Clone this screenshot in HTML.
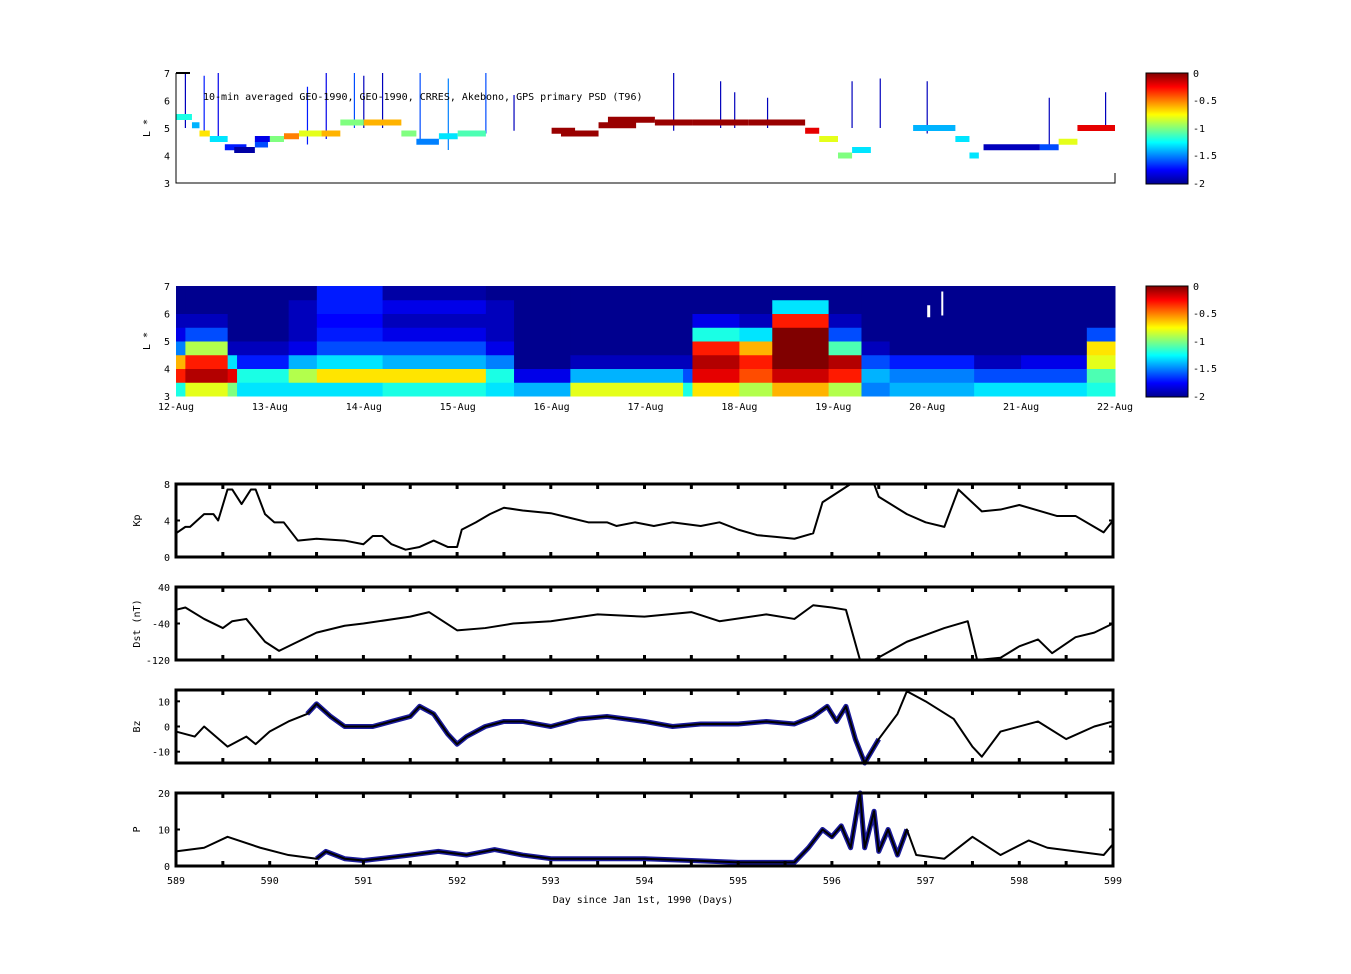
<!DOCTYPE html>
<html><head><meta charset="utf-8"><style>
html,body{margin:0;padding:0;background:#fff;}
svg{display:block;font-family:"DejaVu Sans Mono","Liberation Mono",monospace;}
text{font-size:10px;fill:#000;}
</style></head><body>
<svg id="fig" width="1351" height="974" viewBox="0 0 1351 974" xmlns="http://www.w3.org/2000/svg">
<defs>
<linearGradient id="jet" x1="0" y1="1" x2="0" y2="0">
<stop offset="0" stop-color="#00008f"/><stop offset="0.125" stop-color="#0000ff"/><stop offset="0.375" stop-color="#00ffff"/><stop offset="0.625" stop-color="#ffff00"/><stop offset="0.875" stop-color="#ff0000"/><stop offset="1" stop-color="#800000"/>
</linearGradient>
</defs>
<g id="p1"></g>
<g id="p2"></g>
<g id="lines"></g>
<g>
<rect x="1146" y="73" width="42" height="111" fill="url(#jet)" stroke="#000" stroke-width="1"/>
<text x="1193" y="77">0</text><text x="1193" y="104">-0.5</text><text x="1193" y="132">-1</text><text x="1193" y="159">-1.5</text><text x="1193" y="187">-2</text>
</g>
<g>
<rect x="1146" y="286" width="42" height="111" fill="url(#jet)" stroke="#000" stroke-width="1"/>
<text x="1193" y="290">0</text><text x="1193" y="317">-0.5</text><text x="1193" y="345">-1</text><text x="1193" y="372">-1.5</text><text x="1193" y="400">-2</text>
</g>
<text x="643" y="903" text-anchor="middle">Day since Jan 1st, 1990 (Days)</text>
</svg>
<script>
// ---------- data ----------
const dateLabels = ["12-Aug","13-Aug","14-Aug","15-Aug","16-Aug","17-Aug","18-Aug","19-Aug","20-Aug","21-Aug","22-Aug"];
const dayTicks = [589,590,591,592,593,594,595,596,597,598,599];
const trajBlocks = [[0,0.17,5.4,-1.2],[0.17,0.25,5.1,-1.4],[0.25,0.36,4.8,-0.7],[0.36,0.55,4.6,-1.3],[0.52,0.75,4.3,-1.7],[0.62,0.84,4.2,-1.95],[0.84,0.98,4.4,-1.6],[0.84,1.0,4.6,-1.8],[1.0,1.15,4.6,-1.0],[1.15,1.31,4.7,-0.5],[1.31,1.55,4.8,-0.8],[1.55,1.75,4.8,-0.6],[1.75,2.0,5.2,-1.0],[2.0,2.4,5.2,-0.6],[2.4,2.56,4.8,-1.0],[2.56,2.8,4.5,-1.5],[2.8,3.0,4.7,-1.3],[3.0,3.3,4.8,-1.1],
[4.0,4.25,4.9,-0.05],[4.1,4.5,4.8,-0.05],[4.5,4.9,5.1,-0.05],[4.6,5.1,5.3,-0.05],[5.1,5.5,5.2,-0.05],[5.5,6.1,5.2,-0.05],[6.1,6.7,5.2,-0.05],[6.7,6.85,4.9,-0.2],[6.85,7.05,4.6,-0.8],[7.05,7.2,4.0,-1.0],[7.2,7.4,4.2,-1.3],
[7.85,8.3,5.0,-1.4],[8.3,8.45,4.6,-1.3],[8.45,8.55,4.0,-1.3],[8.6,9.2,4.3,-1.9],[9.2,9.4,4.3,-1.6],[9.4,9.6,4.5,-0.8],[9.6,10,5.0,-0.2]];
const trajSpikes = [[0.1,5,7,-1.9],[0.3,4.8,6.9,-1.7],[0.45,4.5,7,-1.8],[1.4,4.4,6.5,-1.7],[1.6,4.6,7,-1.8],[1.9,5,7,-1.6],[2.0,5,6.9,-1.9],[2.2,5,7,-1.9],[2.6,4.5,7,-1.6],[2.9,4.2,6.8,-1.5],[3.3,4.8,7,-1.6],[3.6,4.9,6.2,-1.9],[5.3,4.9,7,-1.9],[5.8,5,6.7,-1.9],[5.95,5,6.3,-1.9],[6.3,5,6.1,-1.9],[7.2,5,6.7,-1.9],[7.5,5,6.8,-1.9],[8.0,4.8,6.7,-1.9],[9.3,4.2,6.1,-1.9],[9.9,5,6.3,-1.9]];
const specStart = [0,0.1,0.55,0.65,1.2,1.5,2.2,3.3,3.6,4.2,5.4,5.5,6.0,6.35,6.95,7.3,7.6,8.5,9.0,9.7];
const specEnd   = [0.1,0.55,0.65,1.2,1.5,2.2,3.3,3.6,4.2,5.4,5.5,6.0,6.35,6.95,7.3,7.6,8.5,9.0,9.7,10];
const specVals = [[-1.2,-0.3,-0.6,-1.5,-1.8,-1.9,-2,-2],[-0.8,-0.1,-0.3,-0.9,-1.6,-1.9,-2,-2],[-1,-0.2,-1.3,-1.9,-2,-2,-2,-2],[-1.3,-1.2,-1.7,-1.9,-2,-2,-2,-2],[-1.3,-0.9,-1.4,-1.8,-1.9,-1.9,-1.9,-2],[-1.3,-0.7,-1.3,-1.6,-1.7,-1.75,-1.7,-1.7],[-1.2,-0.7,-1.4,-1.6,-1.8,-1.9,-1.8,-1.95],[-1.3,-1.2,-1.5,-1.8,-1.9,-1.9,-1.9,-2],[-1.4,-1.8,-2,-2,-2,-2,-2,-2],[-0.8,-1.4,-1.9,-2,-2,-2,-2,-2],[-1.2,-1.6,-1.9,-2,-2,-2,-2,-2],[-0.7,-0.2,-0.1,-0.3,-1.2,-1.8,-2,-2],[-0.9,-0.4,-0.3,-0.6,-1.3,-1.9,-2,-2],[-0.6,-0.15,0,0,0,-0.3,-1.3,-2],[-0.9,-0.3,-0.1,-1.1,-1.6,-1.9,-2,-2],[-1.5,-1.4,-1.6,-1.9,-2,-2,-2,-2],[-1.4,-1.5,-1.7,-2,-2,-2,-2,-2],[-1.3,-1.6,-1.9,-2,-2,-2,-2,-2],[-1.3,-1.6,-1.8,-2,-2,-2,-2,-2],[-1.2,-1.1,-0.8,-0.7,-1.6,-2,-2,-2]];
const kpDays = [589,589.1,589.15,589.3,589.4,589.45,589.55,589.6,589.7,589.8,589.85,589.95,590.05,590.15,590.3,590.5,590.8,591.0,591.1,591.2,591.3,591.45,591.6,591.75,591.9,592.0,592.05,592.2,592.35,592.5,592.7,593.0,593.2,593.4,593.6,593.7,593.9,594.1,594.3,594.6,594.8,595.0,595.2,595.4,595.6,595.8,595.9,596.2,596.45,596.5,596.8,597.0,597.2,597.35,597.6,597.8,598.0,598.4,598.6,598.8,598.9,599];
const kpVals = [2.6,3.3,3.3,4.7,4.7,4,7.4,7.4,5.8,7.4,7.4,4.7,3.8,3.8,1.8,2,1.8,1.4,2.3,2.3,1.4,0.8,1.1,1.8,1.1,1.1,3,3.8,4.7,5.4,5.1,4.8,4.3,3.8,3.8,3.4,3.8,3.4,3.8,3.4,3.8,3.0,2.4,2.2,2.0,2.6,6,8,8,6.6,4.7,3.8,3.3,7.4,5,5.2,5.7,4.5,4.5,3.3,2.7,4];
const dstDays = [589,589.1,589.3,589.5,589.6,589.75,589.95,590.1,590.25,590.5,590.8,591,591.5,591.7,592,592.3,592.6,593,593.5,594,594.5,594.8,595.3,595.6,595.8,596,596.15,596.3,596.45,596.8,597,597.2,597.45,597.55,597.8,598.0,598.2,598.35,598.6,598.8,599];
const dstVals = [-10,-5,-30,-50,-35,-30,-80,-100,-85,-60,-45,-40,-25,-15,-55,-50,-40,-35,-20,-25,-15,-35,-20,-30,0,-5,-10,-120,-120,-80,-65,-50,-35,-120,-115,-90,-75,-105,-70,-60,-40];
const bzDays = [589,589.2,589.3,589.55,589.75,589.85,590,590.2,590.4,590.5,590.65,590.8,591.1,591.3,591.5,591.6,591.75,591.9,592,592.1,592.3,592.5,592.7,593,593.3,593.6,594,594.3,594.6,595,595.3,595.6,595.8,595.95,596.05,596.15,596.25,596.35,596.5,596.7,596.8,597,597.3,597.5,597.6,597.8,598.2,598.5,598.8,599];
const bzVals = [-2,-4,0,-8,-4,-7,-2,2,5,9,4,0,0,2,4,8,5,-3,-7,-4,0,2,2,0,3,4,2,0,1,1,2,1,4,8,2,8,-5,-15,-5,5,14,10,3,-8,-12,-2,2,-5,0,2];
const pDays = [589,589.3,589.55,589.9,590.2,590.5,590.6,590.8,591,591.5,591.8,592.1,592.4,592.7,593,594,594.5,595,595.6,595.75,595.9,596.0,596.1,596.2,596.3,596.35,596.45,596.5,596.6,596.7,596.8,596.9,597.2,597.5,597.8,598.1,598.3,598.9,599];
const pVals = [4,5,8,5,3,2,4,2,1.5,3,4,3,4.5,3,2,2,1.5,1,1,5,10,8,11,5,20,5,15,4,10,3,10,3,2,8,3,7,5,3,6];

// ---------- helpers ----------
const NS="http://www.w3.org/2000/svg";
function mk(tag,attrs,parent){const e=document.createElementNS(NS,tag);for(const k in attrs)e.setAttribute(k,attrs[k]);parent.appendChild(e);return e;}
function jet(v){let t=(v+2)/2;t=Math.max(0,Math.min(1,t));
 const s=[[0,0,0,143],[0.125,0,0,255],[0.375,0,255,255],[0.625,255,255,0],[0.875,255,0,0],[1,128,0,0]];
 for(let i=1;i<s.length;i++){if(t<=s[i][0]){const a=s[i-1],b=s[i],f=(t-a[0])/(b[0]-a[0]);return `rgb(${Math.round(a[1]+f*(b[1]-a[1]))},${Math.round(a[2]+f*(b[2]-a[2]))},${Math.round(a[3]+f*(b[3]-a[3]))})`;}}return "rgb(128,0,0)";}
const X0=176,X1=1115;
const xd=d=>X0+(d/10)*(X1-X0);

// ---------- panel 1 ----------
const p1=document.getElementById('p1');
const yL1=L=>183-(L-3)/4*110;
trajSpikes.forEach(s=>{const e=mk('line',{x1:xd(s[0]),x2:xd(s[0]),y1:yL1(s[1]),y2:yL1(s[2]),stroke:jet(s[3]),'stroke-width':1.2},p1);

});
trajBlocks.forEach(b=>{const e=mk('rect',{x:xd(b[0]),y:yL1(b[2])-3,width:Math.max(1,xd(b[1])-xd(b[0])),height:6,fill:jet(b[3])},p1);

});
mk('path',{d:`M${X0} 73V183H${X1}V173`,fill:'none',stroke:'#000','stroke-width':1},p1);
mk('line',{x1:X0,x2:X0+14,y1:73,y2:73,stroke:'#000','stroke-width':2},p1);
[3,4,5,6,7].forEach(L=>{const t=mk('text',{x:170,y:yL1(L)+4,'text-anchor':'end'},p1);t.textContent=L;});
{const t=mk('text',{x:203,y:100},p1);t.textContent="10-min averaged GEO-1990, GEO-1990, CRRES, Akebono, GPS  primary PSD (T96)";
}
{const t=mk('text',{x:0,y:0,transform:'translate(150,128) rotate(-90)','text-anchor':'middle'},p1);t.textContent="L *";
}

// ---------- panel 2 ----------
const p2=document.getElementById('p2');
const yL2=L=>396-(L-3)/4*110;
mk('rect',{x:X0,y:286,width:X1-X0,height:110,fill:'#00008f'},p2);
specStart.forEach((s,i)=>{specVals[i].forEach((v,j)=>{const e=mk('rect',{x:xd(s),y:yL2(3.5+j*0.5),width:xd(specEnd[i])-xd(s)+0.5,height:yL2(3)-yL2(3.5)+0.5,fill:jet(v)},p2);

});});
mk('rect',{x:xd(8.0),y:yL2(6.3),width:3,height:12,fill:'#fff'},p2);
mk('rect',{x:xd(8.15),y:yL2(6.8),width:2,height:24,fill:'#fff'},p2);
[3,4,5,6,7].forEach(L=>{const t=mk('text',{x:170,y:yL2(L)+4,'text-anchor':'end'},p2);t.textContent=L;});
dateLabels.forEach((l,i)=>{const t=mk('text',{x:xd(i),y:410,'text-anchor':'middle'},p2);t.textContent=l;
});
{const t=mk('text',{x:0,y:0,transform:'translate(150,341) rotate(-90)','text-anchor':'middle'},p2);t.textContent="L *";}

// ---------- line panels ----------
const G=document.getElementById('lines');
const XR=1113;
const xDayL=d=>X0+((d-589)/10)*(XR-X0);
function panel(name,top,bot,ymin,ymax,ticks,label,days,vals,blueFrom,blueTo){
 const g=mk('g',{},G);
 
 
 const y=v=>bot-(Math.max(ymin,Math.min(ymax,v))-ymin)/(ymax-ymin)*(bot-top);
 const pts=days.map((d,i)=>xDayL(d)+','+y(vals[i])).join(' ');
 if(blueFrom!==undefined){
  const bp=[];days.forEach((d,i)=>{if(d>=blueFrom&&d<=blueTo)bp.push(xDayL(d)+','+y(vals[i]));});
  const b=mk('polyline',{points:bp.join(' '),fill:'none',stroke:'#1a1a9a','stroke-width':5,'stroke-linejoin':'round'},g);
  
  
 }
 const l=mk('polyline',{points:pts,fill:'none',stroke:'#000','stroke-width':2,'stroke-linejoin':'round'},g);
 
 
 mk('rect',{x:X0,y:top,width:XR-X0,height:bot-top,fill:'none',stroke:'#000','stroke-width':3},g);
 for(let d=589.5;d<599;d+=0.5){const x=xDayL(d);mk('line',{x1:x,x2:x,y1:top,y2:top+5,stroke:'#000','stroke-width':3},g);mk('line',{x1:x,x2:x,y1:bot-5,y2:bot,stroke:'#000','stroke-width':3},g);}
 ticks.forEach(v=>{const t=mk('text',{x:170,y:y(v)+4,'text-anchor':'end'},g);t.textContent=v;
  mk('line',{x1:X0,x2:X0+4,y1:y(v),y2:y(v),stroke:'#000','stroke-width':2},g);mk('line',{x1:XR-4,x2:XR,y1:y(v),y2:y(v),stroke:'#000','stroke-width':2},g);});
 const t=mk('text',{x:0,y:0,transform:`translate(140,${(top+bot)/2}) rotate(-90)`,'text-anchor':'middle'},g);t.textContent=label;
}
panel('kp-panel',484,557,0,8,[0,4,8],'Kp',kpDays,kpVals);
panel('dst-panel',587,660,-120,40,[-120,-40,40],'Dst (nT)',dstDays,dstVals);
panel('bz-panel',690,763,-14.5,14.5,[-10,0,10],'Bz',bzDays,bzVals,590.35,596.55);
panel('p-panel',793,866,0,20,[0,10,20],'P',pDays,pVals,590.3,596.85);
dayTicks.forEach(d=>{const t=mk('text',{x:xDayL(d),y:884,'text-anchor':'middle'},G);t.textContent=d;

});
</script>
</body></html>
